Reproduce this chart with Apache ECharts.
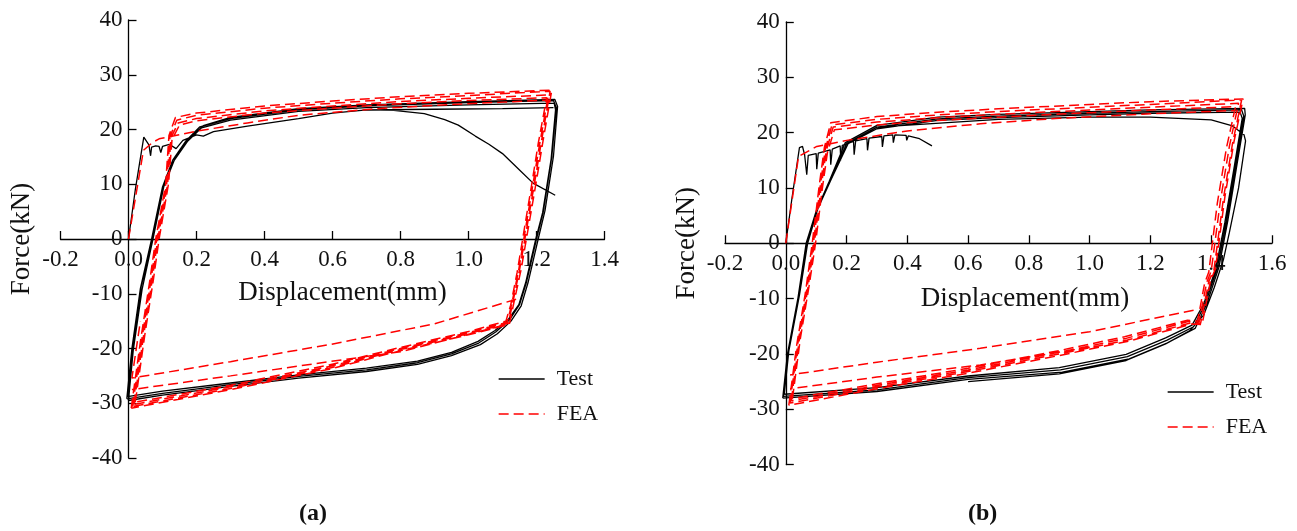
<!DOCTYPE html>
<html>
<head>
<meta charset="utf-8">
<style>html,body{margin:0;padding:0;background:#fff}#c{width:1297px;height:531px}</style>
<script src="https://cdn.jsdelivr.net/npm/echarts@6/dist/echarts.min.js"></script>
</head>
<body>
<div id="c"></div>
<script>
// ---------- tick labels / axes ----------
const xTicksA = [-0.2, 0.0, 0.2, 0.4, 0.6, 0.8, 1.0, 1.2, 1.4];
const xTicksB = [-0.2, 0.0, 0.2, 0.4, 0.6, 0.8, 1.0, 1.2, 1.4, 1.6];
const yTicks = [-40, -30, -20, -10, 0, 10, 20, 30, 40];
const seriesNames = ['Test', 'FEA'];
const panelLabels = ['a', 'b'];

// ---------- panel (a): Test ----------
const testA_init = [[0,0],[0.02,9],[0.045,18.6],[0.06,17.2],[0.065,15.2],[0.068,16.8],[0.08,17.0],[0.09,16.9],[0.095,15.8],[0.1,16.9],[0.12,17.3],[0.14,16.5],[0.16,18.0],[0.2,19.0],[0.22,18.8],[0.25,19.6],[0.35,20.6],[0.5,22.0],[0.6,23.0],[0.7,23.6],[0.78,23.5],[0.87,22.9],[0.93,21.8],[0.97,20.8],[1.02,18.8],[1.06,17.3],[1.1,15.6],[1.15,12.6],[1.19,10.2],[1.255,8.0]];
const testA_env = [[0.7,23.6],[0.9,23.7],[1.1,23.8],[1.25,24.0]];
const testA_loop1 = [[-0.005,-29.2],[0.01,-20],[0.035,-9],[0.068,0],[0.1,9.5],[0.13,14.4],[0.17,18],[0.21,20.5],[0.3,22.0],[0.5,23.6],[0.7,24.3],[1.0,24.9],[1.25,25.3],[1.258,24],[1.245,15],[1.22,5],[1.2,0],[1.17,-8],[1.15,-12],[1.12,-14.8],[1.08,-17],[1.03,-19],[0.95,-21],[0.85,-22.6],[0.7,-23.9],[0.5,-25.1],[0.3,-26.6],[0.1,-28.2],[-0.005,-29.2]];
const testA_loop2 = [[-0.003,-28.8],[0.012,-19.6],[0.037,-8.8],[0.07,0],[0.102,9.3],[0.133,14.2],[0.173,17.8],[0.215,20.3],[0.3,21.7],[0.5,23.3],[0.7,24.0],[1.0,24.5],[1.252,24.8],[1.256,23.6],[1.243,14.6],[1.218,4.8],[1.198,0],[1.168,-8],[1.148,-12],[1.118,-14.6],[1.078,-16.7],[1.028,-18.7],[0.95,-20.7],[0.85,-22.3],[0.7,-23.6],[0.5,-24.8],[0.3,-26.3],[0.1,-27.8],[-0.003,-28.8]];
const testA_loop3 = [[0.0,-29.5],[0.014,-20.3],[0.04,-9.2],[0.072,0],[0.104,9.6],[0.136,14.6],[0.176,18.2],[0.22,20.7],[0.3,22.2],[0.5,23.8],[0.7,24.5],[1.0,25.1],[1.254,25.5],[1.262,24.2],[1.25,15.2],[1.225,5.2],[1.205,0],[1.175,-8],[1.155,-12.2],[1.125,-15],[1.085,-17.3],[1.035,-19.3],[0.95,-21.3],[0.85,-22.9],[0.7,-24.2],[0.5,-25.4],[0.3,-26.9],[0.1,-28.5],[0.0,-29.5]];

// ---------- panel (a): FEA ----------
const feaA_init = [[0,0],[0.044,16.2],[0.07,17.6],[0.09,18.3],[0.2,19.7],[0.35,21.2],[0.5,22.6],[0.73,23.8],[0.9,24.4],[1.1,25.0],[1.24,25.4]];
const feaA_loop1 = [[0.012,-30.6],[0.04,-18],[0.065,-8],[0.083,0],[0.112,9.9],[0.122,18.7],[0.142,21.7],[0.2,22.6],[0.4,23.9],[0.6,24.8],[0.8,25.6],[1.0,26.2],[1.24,27.0],[1.215,18],[1.195,10.5],[1.15,-5.7],[1.13,-11.7],[1.117,-15.4],[1.0,-17.3],[0.8,-20.2],[0.59,-23.6],[0.3,-27.3],[0.012,-30.6]];
const feaA_loop2 = [[0.016,-30.2],[0.044,-17.8],[0.069,-7.8],[0.086,0],[0.115,10],[0.125,18.5],[0.146,21.2],[0.2,22.0],[0.4,23.4],[0.6,24.3],[0.8,25.1],[1.0,25.7],[1.235,26.3],[1.21,17.6],[1.19,10.2],[1.147,-5.9],[1.127,-11.9],[1.114,-15.2],[1.0,-17.1],[0.8,-20.0],[0.59,-23.3],[0.3,-27.0],[0.016,-30.2]];
const feaA_loop3 = [[0.02,-29.8],[0.048,-17.5],[0.073,-7.5],[0.09,0],[0.118,10.2],[0.128,18.2],[0.15,20.8],[0.2,21.6],[0.4,23.0],[0.6,23.9],[0.8,24.7],[1.0,25.3],[1.23,25.8],[1.205,17.4],[1.186,10],[1.143,-6.1],[1.124,-12.1],[1.11,-15],[1.0,-16.9],[0.8,-19.8],[0.59,-23.0],[0.3,-26.7],[0.02,-29.8]];
const feaA_loop4 = [[0.008,-30.9],[0.036,-18.3],[0.061,-8.3],[0.08,0],[0.109,9.8],[0.119,18.9],[0.138,22.2],[0.2,23.0],[0.4,24.3],[0.6,25.2],[0.8,26.0],[1.0,26.6],[1.245,27.2],[1.22,18.2],[1.2,10.7],[1.155,-5.5],[1.134,-11.5],[1.12,-15.6],[1.0,-17.5],[0.8,-20.4],[0.59,-23.8],[0.3,-27.5],[0.008,-30.9]];
const feaA_rev1 = [[1.14,-11.0],[0.9,-15.5],[0.59,-19.3],[0.3,-22.4],[0.01,-25.4],[0.035,-15]];
const feaA_rev2 = [[1.1,-15.8],[0.8,-20.6],[0.59,-22.4],[0.3,-25.0],[0.01,-27.5]];

// ---------- panel (b): Test ----------
const testB_init = [[0,0],[0.02,8],[0.045,17.3],[0.055,17.5],[0.062,16.0],[0.067,15.9],[0.069,12.4],[0.074,15.9],[0.1,16.2],[0.102,13.4],[0.107,16.3],[0.146,16.9],[0.148,14.2],[0.153,17.0],[0.179,17.6],[0.181,15.0],[0.186,17.7],[0.223,18.4],[0.225,16.0],[0.23,18.5],[0.267,18.9],[0.269,16.8],[0.274,19.0],[0.316,19.3],[0.318,17.4],[0.323,19.4],[0.352,19.6],[0.354,18.2],[0.359,19.6],[0.396,19.5],[0.398,18.6],[0.403,19.4],[0.44,18.9],[0.481,17.6]];
const testB_loop1 = [[-0.008,-27.7],[0.007,-19.9],[0.042,-9.7],[0.069,0],[0.102,6.0],[0.146,11.4],[0.2,18.0],[0.3,21.0],[0.5,22.5],[0.7,23.0],[1.0,23.5],[1.2,23.8],[1.5,24.1],[1.507,23],[1.48,14],[1.45,4],[1.42,-4.5],[1.38,-11],[1.342,-15.1],[1.255,-17.5],[1.124,-20.5],[0.904,-22.9],[0.6,-24.3],[0.3,-26.5],[-0.008,-27.7]];
const testB_loop2 = [[-0.005,-27.3],[0.01,-19.5],[0.045,-9.4],[0.072,0],[0.105,6.2],[0.15,11.6],[0.205,18.0],[0.3,20.7],[0.5,22.2],[0.7,22.7],[1.0,23.2],[1.2,23.5],[1.495,23.7],[1.502,22.6],[1.475,13.6],[1.445,3.8],[1.415,-4.6],[1.375,-11],[1.337,-14.8],[1.25,-17.1],[1.12,-20.1],[0.9,-22.5],[0.6,-24.0],[0.3,-26.1],[-0.005,-27.3]];
const testB_loop3 = [[-0.01,-28.0],[0.005,-20.2],[0.04,-9.9],[0.067,0],[0.1,5.8],[0.143,11.2],[0.196,18.2],[0.3,21.3],[0.5,22.8],[0.7,23.3],[1.0,23.8],[1.2,24.1],[1.51,24.4],[1.512,23.2],[1.485,14.3],[1.455,4.2],[1.425,-4.4],[1.385,-11],[1.347,-15.4],[1.26,-17.9],[1.13,-20.9],[0.91,-23.3],[0.6,-24.6],[0.3,-26.8],[-0.01,-28.0]];
const testB_last = [[0.3,21.0],[0.7,22.4],[1.0,22.8],[1.2,22.8],[1.4,22.3],[1.47,21.2],[1.508,19.6],[1.513,18.5],[1.49,10],[1.46,2],[1.44,-3],[1.41,-8],[1.375,-13],[1.33,-15.8],[1.25,-18.2],[1.12,-21.2],[0.9,-23.6],[0.6,-25.0]];

// ---------- panel (b): FEA ----------
const feaB_init = [[0,0],[0.042,15.7],[0.102,17.5],[0.2,18.6],[0.4,20.3],[0.64,21.6],[0.9,22.6],[1.2,23.4],[1.48,24.0]];
const feaB_loop1 = [[0.014,-28.9],[0.04,-18],[0.069,-8.4],[0.091,0],[0.113,10.2],[0.13,17],[0.152,21.4],[0.3,22.4],[0.5,23.2],[0.7,23.8],[1.0,24.6],[1.2,25.1],[1.5,25.9],[1.47,18],[1.44,8],[1.409,-4.8],[1.392,-6.9],[1.365,-14.5],[1.332,-14.4],[1.124,-17.5],[0.9,-20],[0.6,-23.2],[0.3,-26],[0.014,-28.9]];
const feaB_loop2 = [[0.018,-28.5],[0.044,-17.6],[0.073,-8],[0.094,0],[0.116,10],[0.133,16.7],[0.156,21.0],[0.3,21.9],[0.5,22.7],[0.7,23.3],[1.0,24.1],[1.2,24.6],[1.49,25.3],[1.46,17.6],[1.43,7.6],[1.4,-5],[1.385,-7.1],[1.36,-14.3],[1.327,-14.1],[1.12,-17.2],[0.9,-19.7],[0.6,-22.9],[0.3,-25.7],[0.018,-28.5]];
const feaB_loop3 = [[0.022,-28.1],[0.048,-17.2],[0.077,-7.6],[0.098,0],[0.12,9.8],[0.137,16.4],[0.16,20.5],[0.3,21.4],[0.5,22.2],[0.7,22.8],[1.0,23.6],[1.2,24.1],[1.48,24.7],[1.45,17.2],[1.42,7.2],[1.392,-5.2],[1.378,-7.3],[1.355,-14.1],[1.322,-13.9],[1.115,-16.9],[0.9,-19.4],[0.6,-22.6],[0.3,-25.4],[0.022,-28.1]];
const feaB_loop4 = [[0.01,-29.3],[0.036,-18.4],[0.065,-8.8],[0.087,0],[0.11,10.4],[0.127,17.3],[0.148,21.8],[0.3,22.9],[0.5,23.7],[0.7,24.3],[1.0,25.1],[1.2,25.6],[1.505,26.1],[1.475,18.4],[1.445,8.4],[1.414,-4.6],[1.398,-6.7],[1.37,-14.7],[1.337,-14.6],[1.128,-17.7],[0.9,-20.3],[0.6,-23.5],[0.3,-26.3],[0.01,-29.3]];
const feaB_rev1 = [[1.342,-12.1],[1.0,-16.0],[0.64,-19.0],[0.3,-21.5],[0.014,-23.8]];
const feaB_rev2 = [[1.0,-18.8],[0.64,-22.0],[0.3,-24.2],[0.014,-26.3]];

// join several paths into one series, with gaps between them
function joinPaths(paths) {
  const out = [];
  paths.forEach((p, i) => { if (i) out.push(['-', '-']); p.forEach(pt => out.push(pt)); });
  return out;
}

const FONT = 'Liberation Serif';
const chart = echarts.init(document.getElementById('c'), null, {renderer: 'canvas'});

// grids: [left, top, width, height]
const gridA = {left: 60.5, top: 20, width: 544, height: 438};
const gridB = {left: 725, top: 22, width: 547, height: 442.5};

function xAxisCfg(idx, g, max, nameGap, padLeft) {
  const min = -0.2;
  // put the x axis on the y = 0 line (y range is -40..40)
  const off = -(g.height * 40 / 80);
  return {
    type: 'value', gridIndex: idx, min: min, max: max, interval: 0.2,
    position: 'bottom', offset: off,
    name: 'Displacement(mm)', nameLocation: 'middle', nameGap: nameGap,
    nameTextStyle: {fontFamily: FONT, fontSize: 27, color: '#111', padding: [0, 0, 0, padLeft]},
    axisLine: {onZero: false, lineStyle: {color: '#000', width: 1.3}},
    axisTick: {inside: true, length: 8, lineStyle: {color: '#000', width: 1.3}},
    axisLabel: {fontFamily: FONT, fontSize: 23, color: '#111', margin: 9,
      formatter: v => v.toFixed(1)},
    splitLine: {show: false}
  };
}
function yAxisCfg(idx, g, xmax, nameGap) {
  // put the y axis on the x = 0 line
  const off = -(g.width * 0.2 / (xmax + 0.2));
  return {
    type: 'value', gridIndex: idx, min: -40, max: 40, interval: 10,
    position: 'left', offset: off,
    name: 'Force(kN)', nameLocation: 'middle', nameGap: nameGap, nameRotate: 90,
    nameTextStyle: {fontFamily: FONT, fontSize: 27, color: '#111'},
    axisLine: {onZero: false, lineStyle: {color: '#000', width: 1.3}},
    axisTick: {inside: true, length: 8, lineStyle: {color: '#000', width: 1.3}},
    axisLabel: {fontFamily: FONT, fontSize: 23, color: '#111', margin: 6, padding: [6, 0, 0, 0],
      formatter: v => String(v)},
    splitLine: {show: false}
  };
}
function testSeries(idx, paths) {
  return {name: seriesNames[0], type: 'line', xAxisIndex: idx, yAxisIndex: idx,
    data: joinPaths(paths), showSymbol: false, symbol: 'none', connectNulls: false,
    lineStyle: {color: '#000', width: 1.3, type: 'solid'}, itemStyle: {color: '#000'}, z: 2};
}
function feaSeries(idx, paths) {
  return {name: seriesNames[1], type: 'line', xAxisIndex: idx, yAxisIndex: idx,
    data: joinPaths(paths), showSymbol: false, symbol: 'none', connectNulls: false,
    lineStyle: {color: '#ff0000', width: 1.5, type: [10, 5]}, itemStyle: {color: '#ff0000'}, z: 3};
}
function legendCfg(left, top, gap) {
  return {data: seriesNames, orient: 'vertical', left: left, top: top, itemGap: gap,
    itemWidth: 46, itemHeight: 14, selectedMode: false,
    itemStyle: {opacity: 0},
    lineStyle: {width: 1.3},
    textStyle: {fontFamily: FONT, fontSize: 22, color: '#111', padding: [0, 0, 0, 7], lineHeight: 20}};
}

const option = {
  animation: false,
  backgroundColor: '#fff',
  title: [
    {text: '{p|(}{b|' + panelLabels[0] + '}{p|)}', left: 294, top: 497,
      textStyle: {rich: {p: {fontFamily: FONT, fontSize: 24, color: '#111'}, b: {fontFamily: FONT, fontSize: 24, fontWeight: 'bold', color: '#111'}}}},
    {text: '{p|(}{b|' + panelLabels[1] + '}{p|)}', left: 963, top: 497,
      textStyle: {rich: {p: {fontFamily: FONT, fontSize: 24, color: '#111'}, b: {fontFamily: FONT, fontSize: 24, fontWeight: 'bold', color: '#111'}}}}
  ],
  legend: [legendCfg(493, 363, 13), legendCfg(1162, 376, 13)],
  grid: [
    Object.assign({containLabel: false, outerBoundsMode: 'none'}, gridA),
    Object.assign({containLabel: false, outerBoundsMode: 'none'}, gridB)
  ],
  xAxis: [xAxisCfg(0, gridA, 1.4, 40, 20), xAxisCfg(1, gridB, 1.6, 42, 53)],
  yAxis: [yAxisCfg(0, gridA, 1.4, 93), yAxisCfg(1, gridB, 1.6, 85)],
  series: [
    testSeries(0, [testA_init, testA_env, testA_loop1, testA_loop2, testA_loop3]),
    feaSeries(0, [feaA_init, feaA_loop1, feaA_loop2, feaA_loop3, feaA_loop4, feaA_rev1, feaA_rev2]),
    testSeries(1, [testB_init, testB_loop1, testB_loop2, testB_loop3, testB_last]),
    feaSeries(1, [feaB_init, feaB_loop1, feaB_loop2, feaB_loop3, feaB_loop4, feaB_rev1, feaB_rev2])
  ]
};
chart.setOption(option);
</script>
</body>
</html>
